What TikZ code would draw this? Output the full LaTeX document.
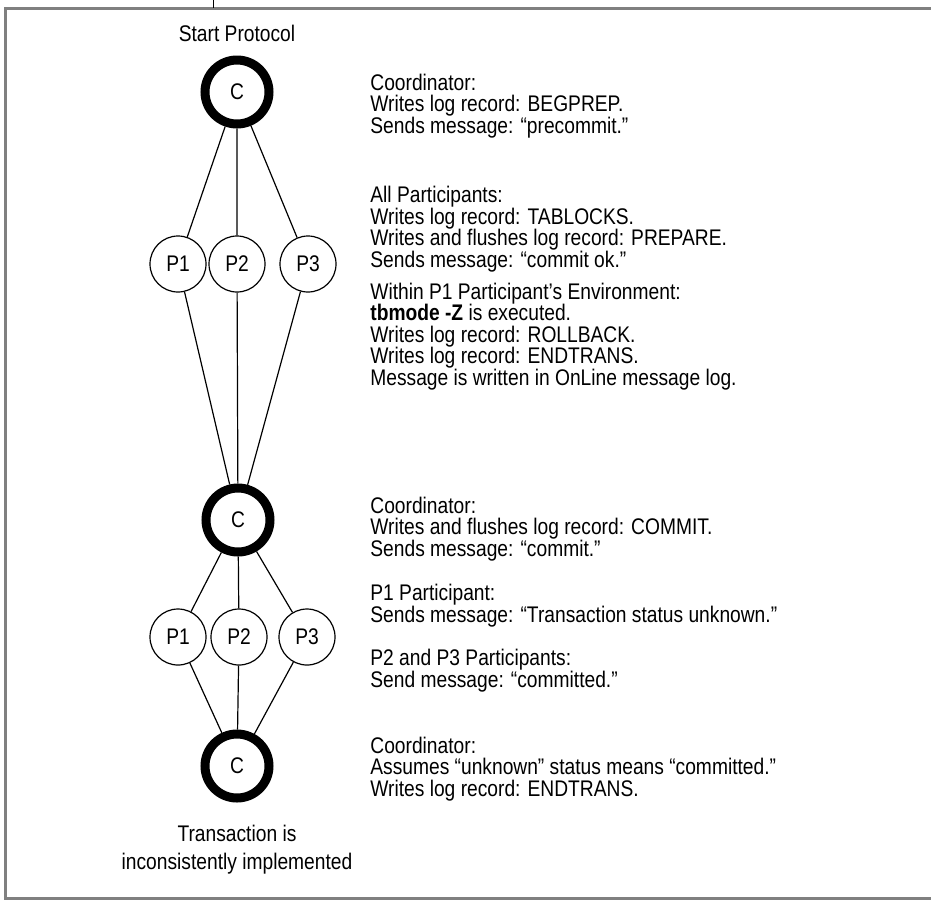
\documentclass[tikz,border=0pt]{standalone}
\usepackage{fontspec}
\setmainfont{Liberation Sans}[FakeStretch=0.85]
\usepackage{tikz}
\usetikzlibrary{positioning}
\definecolor{marco}{RGB}{128,128,128}
\newcommand{\letra}{\fontsize{11.3}{10.8}\selectfont}
\tikzset{
  coordinador/.style={circle, draw, line width=4.5pt, minimum size=32pt,
    inner sep=0pt, font=\letra},
  participante/.style={circle, draw, line width=0.6pt, minimum size=28pt,
    inner sep=0pt, font=\letra},
  enlace/.style={line width=0.6pt},
  % el ancla base cae en la ultima linea de cada nota
  nota/.style={anchor=base west, align=left, inner sep=0pt, font=\letra},
  rotulo/.style={align=center, inner sep=0pt, font=\letra}
}

\begin{document}
\begin{tikzpicture}[x=0.5pt, y=-0.5pt]
  \useasboundingbox (0,0) rectangle (931,901);
  % marco gris
  \draw[marco, line width=1.5pt] (945,8) -- (5,8) -- (5,898.5) -- (945,898.5);
  \draw[line width=0.5pt] (213,0) -- (213,8);

  % nodos del protocolo
  \node[coordinador] (c1) at (237,92) {C};
  \node[participante] (p11) at (178,264) {P1};
  \node[participante] (p12) at (237,264) {P2};
  \node[participante] (p13) at (308,264) {P3};
  \node[coordinador] (c2) at (238,520) {C};
  \node[participante] (p21) at (178,637) {P1};
  \node[participante] (p22) at (239,637) {P2};
  \node[participante] (p23) at (307,637) {P3};
  \node[coordinador] (c3) at (237,766) {C};

  \node[rotulo] (inicio) at (237,33) {Start Protocol};
  \node[rotulo, below=11pt of c3] (fin)
    {Transaction is\\[3.2pt]inconsistently implemented};

  \foreach \p in {p11,p12,p13} \draw[enlace] (c1) -- (\p) -- (c2);
  \foreach \p in {p21,p22,p23} \draw[enlace] (c2) -- (\p) -- (c3);

  % notas de cada fase
  \node[nota] (n1) at (370,133.5) {Coordinator:\\
    Writes log record: BEGPREP.\\
    Sends message: ``precommit.''};
  \node[nota] (n2) at (370,267.5) {All Participants:\\
    Writes log record: TABLOCKS.\\
    Writes and flushes log record: PREPARE.\\
    Sends message: ``commit ok.''};
  \node[nota] (n3) at (370,385.5) {Within P1 Participant's Environment:\\
    \textbf{tbmode -Z} is executed.\\
    Writes log record: ROLLBACK.\\
    Writes log record: ENDTRANS.\\
    Message is written in OnLine message log.};
  \node[nota] (n4) at (370,556.5) {Coordinator:\\
    Writes and flushes log record: COMMIT.\\
    Sends message: ``commit.''};
  \node[nota] (n5) at (370,622.5) {P1 Participant:\\
    Sends message: ``Transaction status unknown.''};
  \node[nota] (n6) at (370,687.5) {P2 and P3 Participants:\\
    Send message: ``committed.''};
  \node[nota] (n7) at (370,796.5) {Coordinator:\\
    Assumes ``unknown'' status means ``committed.''\\
    Writes log record: ENDTRANS.};
\end{tikzpicture}
\end{document}
